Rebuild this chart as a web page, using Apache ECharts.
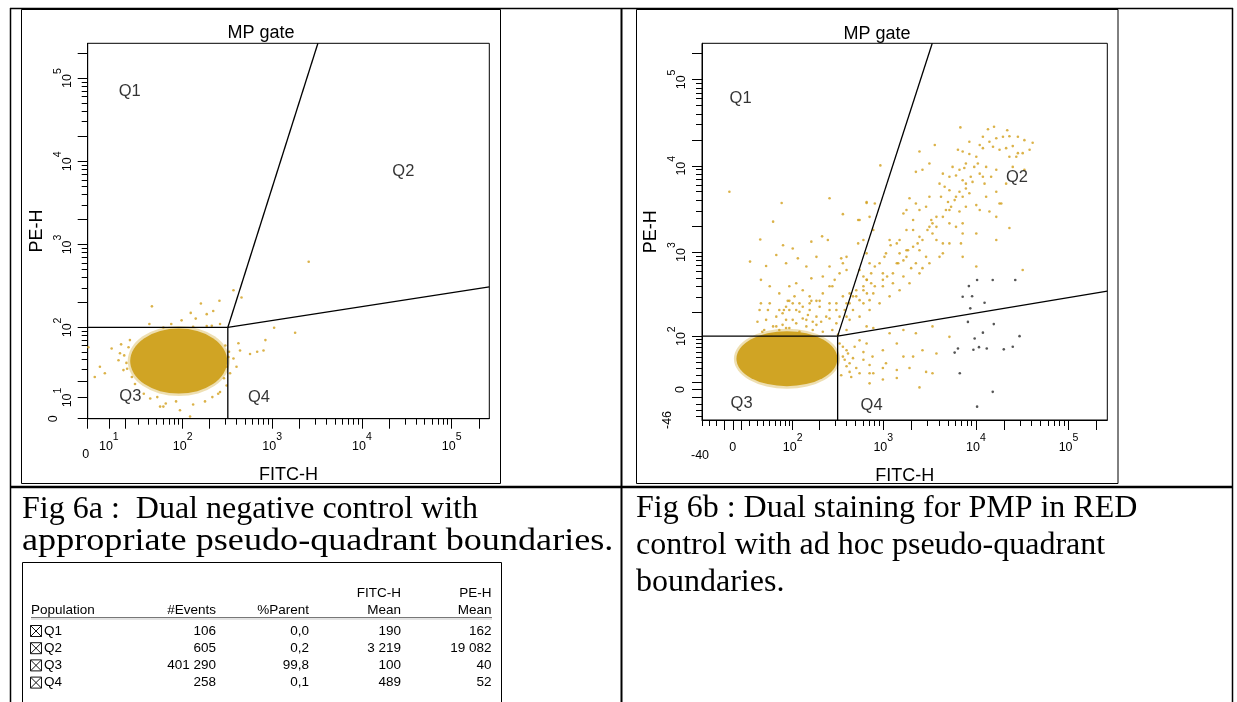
<!DOCTYPE html>
<html><head><meta charset="utf-8">
<script src="https://cdn.jsdelivr.net/npm/echarts@6/dist/echarts.min.js"></script>
<style>html,body{margin:0;padding:0;background:#fff}#c{width:1237px;height:702px}</style>
</head><body><div id="c"></div>
<script>
// ================= DATA =================
const AXIS_MAX = 262144;
// biexponential (asinh) linearisation widths
const aWidth = {x: 17.6, y: 16.1};
const bWidth = {x: 47.5, y: 51};
const aMin = {x: 0, y: 0};
const bMin = {x: -40, y: -46};

// dense Q3 population centres (FITC-H, PE-H)
const aCore = [90, 38];
const bCore = [85, 47];

// sparse events, plot a  [FITC-H, PE-H]
const aEvents = [[2550,620],[44,180],[160,195],[258,210],[370,282],[455,230],[123,150],[186,145],[220,158],[41,110],
[74,110],[97,122],[140,128],[262,110],[212,105],[131,102],[186,104],[60,100],[1050,99],[1800,86],
[840,70],[680,50],[800,52],[566,47],[420,64],[438,52],[370,41],[400,32],[339,26],[0.3,57],
[3.2,23],[5.6,32],[8,26],[11.5,55],[15.4,39],[18.5,28.8],[16.3,48],[20.5,36],[22,57],[24.5,23],
[55,5.5],[60,5.5],[93,3.8],[121,1],[64,7],[84,8],[131,6.5],[178,8],[42,9.5],[51,10.2],
[215,10.2],[262,13],[310,17],[325,43],[310,32],[19,45],[21,30],[17,62],[23,70],[27,18],
[35,12],[300,60],[330,50],[290,22],[250,12]];

// sparse events, plot b  [FITC-H, PE-H]
const bEvents = [[6800,27800],[15700,28300],[13500,26500],[21800,25800],[19600,21700],[23000,22000],[28400,21700],[33400,19800],[41000,18500],[16600,20800],
[14000,19000],[11000,17400],[11900,16000],[15300,16600],[18000,15300],[21200,16000],[25000,16900],[28400,14000],[27300,12700],[23000,12700],
[6400,15300],[7200,14600],[8500,13700],[10100,12700],[10500,10600],[9600,9700],[7500,9400],[6650,9000],[5600,9700],[6100,7700],
[7200,6800],[7800,6200],[9200,6500],[11900,7460],[14600,7460],[16600,9000],[12400,6200],[4400,8100],[3600,17400],[2460,14600],
[930,10100],[2250,8500],[2650,9000],[3150,10600],[4600,5700],[5180,5200],[4200,4370],[5900,4000],[7200,4370],[8500,4800],
[16600,5000],[18000,3650],[14000,2950],[6650,2950],[5180,3070],[3750,2560],[3300,2350],[2900,3350],[2250,3650],[1920,4200],
[1780,3070],[1650,2800],[2100,1800],[2460,1500],[3150,1960],[3400,1640],[3750,1380],[4400,1260],[5180,2150],[6100,1960],
[7200,1640],[10100,1640],[23000,1900],[16600,1380],[6900,1260],[4400,966],[2460,1050],[2900,880],[2250,740],[2000,650],
[2650,650],[1780,1050],[1400,1260],[1170,1380],[1070,966],[912,740],[990,566],[1400,740],[1500,966],[1780,880],
[1650,520],[1270,433],[990,400],[780,330],[711,275],[610,252],[470,210],[400,175],[610,520],[711,740],
[660,966],[554,620],[780,1800],[711,2560],[610,1380],[810,3650],[660,3800],[554,2350],[535,1260],[400,880],
[365,740],[336,566],[297,475],[261,400],[220,330],[187,270],[157,252],[131,230],[110,210],[91,210],
[83,230],[75,192],[100,160],[144,160],[187,175],[261,210],[310,252],[365,305],[432,330],[510,360],
[660,475],[33400,9000],[18800,3650],[10100,3500],[7800,3350],[7200,880],[10100,680],[32000,620],
[3400,23],[2460,3],[1920,31],[1400,28],[1070,39],[780,23],[610,45],[510,31],[450,17.5],[400,64],
[365,51],[432,39],[554,88],[711,36],[990,64],[1400,80],[2100,51],[2650,64],[3750,57],[5180,98],
[3400,133],[2250,109],[1650,120],[1170,109],[780,127],[660,133],[1400,16],[990,14],[711,8.6],
[-4,5000],[73,3700],[261,4200],[56,2250],[35,1400],[76,1200],[100,1100],[164,1320],[216,1520],[250,1380],
[365,2750],[535,2350],[660,3700],[21,775],[44,690],[62,925],[83,740],[115,845],[144,680],[187,880],
[261,680],[350,845],[400,620],[36,475],[50,400],[68,330],[91,400],[110,433],[131,360],[164,495],
[220,520],[280,400],[36,252],[47,210],[62,175],[31,152],[41,120],[56,133],[75,139],[87,270],
[105,305],[120,200],[157,210],[203,230],[240,175],[310,145],[400,120],[187,139],[144,133],
[68,120],[91,127],[120,114],[170,120],[220,114],[280,120],[38,114],[83,160],[110,145],[150,183],
[211,152],[100,252],[78,210],[164,270],[53,105],[323,105],
[365,72],[415,57],[470,48],[400,34],[554,23],[350,20],[660,80],[765,51],[990,31],[1650,51],[2900,25],
[400,252],[470,305],[554,275],[610,360],[665,330],[740,433],[810,400],[990,475],[1100,520],[1270,566],
[1450,740],[1650,800],[1850,1050],[2100,1150],[2350,1260],[2650,1380],[3000,1800],[3400,2150],[3750,1960],[4400,2560],
[4750,3070],[5400,3350],[6100,4370],[5000,3800],[6650,5000],[7800,5450],[8800,7460],[11000,8100],[12900,9700],[7800,10600],
[5180,7460],[4050,6200],[3150,4370],[2460,3070],[2100,2350],[1780,1800],[1500,1380],[1200,1200],[1030,880],[810,680],
[740,566],[665,475],[610,400],[510,305],[432,252],[382,210],[336,175],[432,160],[554,175],[711,210],
[912,252],[1170,305],[1500,360],[1920,433],[2460,566],[3150,740],[4050,880],[5180,1260],[7200,2150],[11000,3070],
[16600,2560],[12900,4370],[21200,6200],[25000,9700],[32000,14000],[38000,15300],[11900,21700],[8500,19000],
[34,210],[50,252],[68,210],[91,270],[120,252],[157,305],[203,270],[261,252],[310,210],[44,160],
[62,133],[131,166],[170,152],[261,166],[83,127],
[336,80],[382,45],[432,25],[490,72],[610,60],[711,23]];

// dark (black) events, plot b
const bDark = [[10300,473],[15200,473],[26600,473],[8400,402],[7200,301],[9100,306],[12400,256],[8700,220],[8200,151],[15600,142],
[11900,111],[29600,100],[9700,93],[10800,71],[9400,65],[13100,68],[20000,66],[25000,72],[5900,59],[6400,68],[6700,23],[15200,-3],[10300,-24]];

// pseudo-quadrant gates: corner, end on top edge, end on right edge
const aGate = {corner: [320, 100], top: [3230, AXIS_MAX], right: [AXIS_MAX, 310]};
const bGate = {corner: [320, 100], top: [3380, AXIS_MAX], right: [AXIS_MAX, 351]};

// quadrant label anchors
const aQuad = [['Q1', 22.8, 69500], ['Q2', 28900, 7500], ['Q3', 23.3, 10.4], ['Q4', 713, 10.2]];
const bQuad = [['Q1', 9.3, 60800], ['Q2', 27800, 7300], ['Q3', 10.5, -18.6], ['Q4', 747, -21.6]];

// tick labels: [value, base, exponent, staggered]
const aXLabels = [[0,'0','',1],[10,'10','1'],[100,'10','2'],[1000,'10','3'],[10000,'10','4'],[100000,'10','5']];
const aYLabels = [[0,'0','',1],[10,'10','1'],[100,'10','2'],[1000,'10','3'],[10000,'10','4'],[100000,'10','5']];
const bXLabels = [[-40,'-40','',1],[0,'0','',0],[100,'10','2'],[1000,'10','3'],[10000,'10','4'],[100000,'10','5']];
const bYLabels = [[-46,'-46','',1],[0,'0','',0],[100,'10','2'],[1000,'10','3'],[10000,'10','4'],[100000,'10','5']];
const tickMantissas = [1,2,3,4,5,6,7,8,9];
const bLinearTicks = [-40,-30,-20,-10,0,10,20,30,40,50,60,70,80,90];
const aMajor = [0,10,20,100,200,1000,2000,10000,20000,100000,200000];
const bMajor = [-10,0,10,100,200,1000,2000,10000,20000,100000,200000];

// statistics table
const tableHead1 = ['', '', '', 'FITC-H', 'PE-H'];
const tableHead2 = ['Population', '#Events', '%Parent', 'Mean', 'Mean'];
const tableRows = [
  ['Q1', '106', '0,0', '190', '162'],
  ['Q2', '605', '0,2', '3 219', '19 082'],
  ['Q3', '401 290', '99,8', '100', '40'],
  ['Q4', '258', '0,1', '489', '52']
];
const captionA = ['Fig 6a :  Dual negative control with', 'appropriate pseudo-quadrant boundaries.'];
const captionB = ['Fig 6b : Dual staining for PMP in RED', 'control with ad hoc pseudo-quadrant', 'boundaries.'];

// ================= BUILD =================
const T = (v, c) => Math.asinh(v / c);
const SANS = 'Liberation Sans';
const GOLD = '#C89500';
const SPARSE = '#D29F1C';

function logTicks(e0, e1) {
  const out = [];
  for (let e = e0; e <= e1; e++) for (const m of tickMantissas) { const v = m * Math.pow(10, e); if (v <= AXIS_MAX) out.push(v); }
  return out;
}
const aTicks = [0].concat(logTicks(1, 5));
const bTicks = bLinearTicks.concat(logTicks(2, 5));

function makeAxes(isX, gridIndex, C, vmin, labels, ticks, major, name, gap) {
  const min = T(vmin, C), max = T(AXIS_MAX, C);
  const minorT = ticks.filter(v => major.indexOf(v) < 0 && v >= vmin).map(v => T(v, C));
  const majorT = major.filter(v => v >= vmin).map(v => T(v, C));
  const labT = labels.map(l => T(l[0], C));
  const f = {fontSize: 12.5, fontFamily: SANS, color: '#000'};
  const rich = {
    b: Object.assign({lineHeight: 21, verticalAlign: 'bottom'}, f),
    s: {fontSize: 10.5, fontFamily: SANS, color: '#000', lineHeight: 21, verticalAlign: 'top'},
    n: isX ? Object.assign({lineHeight: 21, verticalAlign: 'bottom'}, f) : Object.assign({lineHeight: 14}, f),
    z: isX ? Object.assign({lineHeight: 29, verticalAlign: 'bottom', padding: [0, 4, 0, 0]}, f)
           : Object.assign({lineHeight: 27, verticalAlign: 'top'}, f)
  };
  const fmt = (val) => {
    const l = labels.find(q => Math.abs(T(q[0], C) - val) < 1e-6);
    if (!l) return '';
    if (l[2]) return '{b|' + l[1] + '}{s|' + l[2] + '}';
    return l[3] ? '{z|' + l[1] + '}' : '{n|' + l[1] + '}';
  };
  const pos = isX ? 'bottom' : 'left';
  const main = {
    type: 'value', gridIndex, min, max, position: pos,
    axisLine: {show: true, onZero: false, lineStyle: {color: '#000', width: 1}},
    axisTick: {show: true, inside: false, length: 6, customValues: minorT, lineStyle: {color: '#000', width: 1}},
    axisLabel: {show: true, customValues: labT, margin: isX ? 13 : 14, rotate: isX ? 0 : 90, formatter: fmt, rich, color: '#000'},
    splitLine: {show: false},
    name, nameLocation: 'middle', nameGap: gap,
    nameTextStyle: {fontSize: 18, fontFamily: SANS, color: '#000'}
  };
  const maj = {
    type: 'value', gridIndex, min, max, position: pos,
    axisLine: {show: false, onZero: false},
    axisTick: {show: true, inside: false, length: 10, customValues: majorT, lineStyle: {color: '#000', width: 1}},
    axisLabel: {show: false}, splitLine: {show: false}
  };
  return [main, maj];
}

const xAxes = makeAxes(true, 0, aWidth.x, aMin.x, aXLabels, aTicks, aMajor, 'FITC-H', 38)
  .concat(makeAxes(true, 1, bWidth.x, bMin.x, bXLabels, bTicks, bMajor, 'FITC-H', 38.5));
const yAxes = makeAxes(false, 0, aWidth.y, aMin.y, aYLabels, aTicks, aMajor, 'PE-H', 36)
  .concat(makeAxes(false, 1, bWidth.y, bMin.y, bYLabels, bTicks, bMajor, 'PE-H', 35.5));

function plotSeries(axisIdx, W, core, coreSize, events, gate, quads, mins) {
  const P = p => [T(p[0], W.x), T(p[1], W.y)];
  const base = {xAxisIndex: axisIdx, yAxisIndex: axisIdx, silent: true, animation: false};
  const s = [];
  s.push(Object.assign({type: 'scatter', data: [P(core)], symbol: 'circle', symbolSize: [coreSize[0] + 5, coreSize[1] + 5], itemStyle: {color: GOLD, opacity: 0.3}, z: 2}, base));
  s.push(Object.assign({type: 'scatter', data: [P(core)], symbol: 'circle', symbolSize: coreSize, itemStyle: {color: GOLD}, z: 3}, base));
  s.push(Object.assign({type: 'scatter', data: events.map(P), symbol: 'circle', symbolSize: 2.6, itemStyle: {color: SPARSE}, z: 4}, base));
  const segs = [
    [[mins.x, gate.corner[1]], gate.corner],
    [gate.corner, [gate.corner[0], mins.y]],
    [gate.corner, gate.top],
    [gate.corner, gate.right]
  ];
  segs.forEach(sg => s.push(Object.assign({type: 'line', data: sg.map(P), symbol: 'none', showSymbol: false, clip: true,
    lineStyle: {color: '#000', width: 1.3}, z: 6}, base)));
  s.push(Object.assign({type: 'scatter', symbolSize: 0, z: 7,
    data: quads.map(q => ({name: q[0], value: P([q[1], q[2]])})),
    label: {show: true, position: 'inside', formatter: '{b}', fontSize: 16.5, fontFamily: SANS, color: '#000'}}, base));
  return s;
}

const series = plotSeries(0, aWidth, aCore, [97, 65], aEvents, aGate, aQuad, aMin)
  .concat(plotSeries(2, bWidth, bCore, [101, 55], bEvents, bGate, bQuad, bMin));
series.push({type: 'scatter', xAxisIndex: 2, yAxisIndex: 2, silent: true, z: 5,
  data: bDark.map(p => [T(p[0], bWidth.x), T(p[1], bWidth.y)]), symbolSize: 2.6, itemStyle: {color: '#2a2a2a'}});

// ---- page furniture (table borders, captions, stats table) ----
const G = [];
const line = (x1, y1, x2, y2, w, c) => G.push({type: 'line', silent: true, shape: {x1, y1, x2, y2}, style: {stroke: c || '#000', lineWidth: w || 1}});
const rect = (x, y, w, h, lw) => G.push({type: 'rect', silent: true, shape: {x, y, width: w, height: h}, style: {fill: 'none', stroke: '#000', lineWidth: lw || 1}});
const text = (x, y, t, font, align, sx) => G.push({type: 'text', silent: true, x, y, scaleX: sx || 1,
  style: {text: t, font, fill: '#000', align: align || 'left', textAlign: align || 'left', verticalAlign: 'middle', textVerticalAlign: 'middle'}});

line(10, 8.5, 1233, 8.5, 1.5);
line(10.5, 8, 10.5, 702, 1.5);
line(621.5, 8, 621.5, 702, 2);
line(1232.5, 8, 1232.5, 702, 1.5);
line(10, 487, 1233, 487, 2.5);
rect(21.5, 9.5, 479, 474);
rect(636.5, 9.5, 481.5, 474);
rect(22.5, 562.5, 479, 200);

text(261, 33, 'MP gate', '18px "Liberation Sans"', 'center');
text(877, 34, 'MP gate', '18px "Liberation Sans"', 'center');

const CAP = '32px "Liberation Serif"';
text(22, 509.5, captionA[0], CAP);
text(22, 542, captionA[1], CAP, 'left', 1.13);
[509, 545.8, 582.5].forEach((y, i) => text(636, y, captionB[i], CAP));

const TF = '13.5px "Liberation Sans"';
const colRight = [null, 216, 309, 401, 491.5];
tableHead1.forEach((t, i) => { if (t) text(colRight[i], 593, t, TF, 'right'); });
tableHead2.forEach((t, i) => { if (i === 0) text(31, 610, t, TF, 'left'); else text(colRight[i], 610, t, TF, 'right'); });
line(31, 617.5, 492, 617.5, 1, '#777');
line(31, 619, 492, 619, 1, '#c8c8c8');
tableRows.forEach((r, k) => {
  const y = 631 + k * 17.2;
  G.push({type: 'rect', silent: true, shape: {x: 30.5, y: y - 5.5, width: 11, height: 11}, style: {fill: 'none', stroke: '#111', lineWidth: 1}});
  line(30.5, y - 5.5, 41.5, y + 5.5, 1, '#111');
  line(41.5, y - 5.5, 30.5, y + 5.5, 1, '#111');
  text(44, y, r[0], TF, 'left');
  for (let i = 1; i < 5; i++) text(colRight[i], y, r[i], TF, 'right');
});

const chart = echarts.init(document.getElementById('c'), null, {renderer: 'canvas', width: 1237, height: 702});
chart.setOption({
  animation: false,
  backgroundColor: '#fff',
  grid: [
    {left: 87.7, top: 43.3, width: 401.6, height: 375.4, show: true, borderColor: '#000', borderWidth: 1, containLabel: false},
    {left: 702, top: 43.3, width: 405.3, height: 376.7, show: true, borderColor: '#000', borderWidth: 1, containLabel: false}
  ],
  xAxis: xAxes,
  yAxis: yAxes,
  series,
  graphic: {elements: G}
});
</script></body></html>
